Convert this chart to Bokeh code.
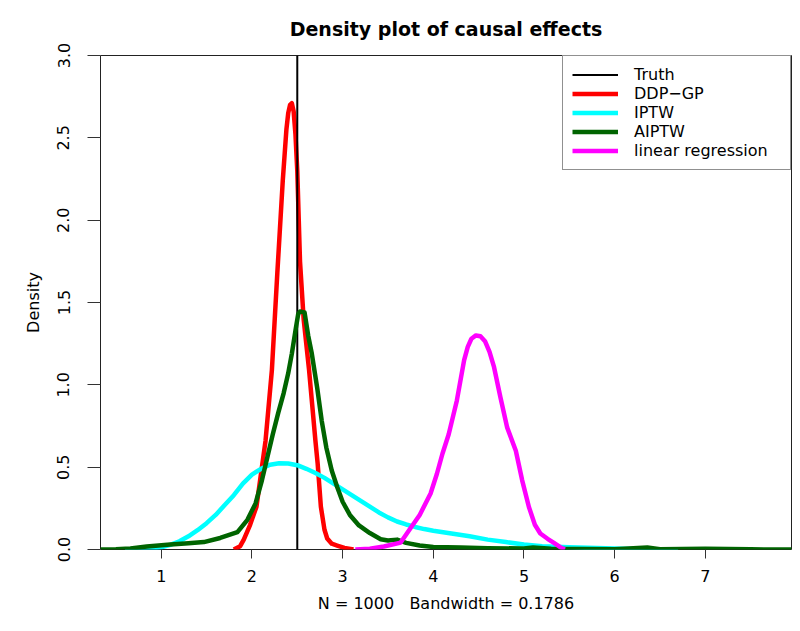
from bokeh.plotting import figure
from bokeh.models import Range1d, FixedTicker, Legend, LegendItem
from bokeh.embed import file_html
from bokeh.resources import INLINE

# ---- data ----
TITLE = "Density plot of causal effects"
TRUTH = 2.5
X_MIN, X_MAX = 0.33, 7.95
Y_MIN, Y_MAX = 0.0, 3.0
x_ticks = [1, 2, 3, 4, 5, 6, 7]
y_ticks = [0.0, 0.5, 1.0, 1.5, 2.0, 2.5, 3.0]
y_tick_labels = ["0.0", "0.5", "1.0", "1.5", "2.0", "2.5", "3.0"]

ddp_x = [1.80, 1.87, 1.91, 1.98, 2.05, 2.11, 2.15, 2.22, 2.28, 2.34, 2.38, 2.40, 2.42, 2.44,
         2.46, 2.48, 2.50, 2.53, 2.57, 2.63, 2.70, 2.725, 2.76, 2.80, 2.83, 2.88, 2.94,
         3.02, 3.12]
ddp_y = [0.0, 0.02, 0.06, 0.15, 0.26, 0.50, 0.66, 1.09, 1.68, 2.24, 2.55, 2.65, 2.70, 2.71,
         2.66, 2.52, 2.30, 1.75, 1.40, 1.09, 0.66, 0.52, 0.26, 0.12, 0.067, 0.035, 0.024,
         0.01, 0.0]

iptw_x = [0.60, 0.80, 1.00, 1.10, 1.20, 1.30, 1.40, 1.50, 1.60, 1.70, 1.80, 1.90, 2.00,
          2.10, 2.20, 2.30, 2.40, 2.50, 2.60, 2.70, 2.80, 2.90, 3.00, 3.10, 3.20, 3.30,
          3.40, 3.50, 3.60, 3.70, 3.80, 3.90, 4.00, 4.20, 4.40, 4.60, 4.80, 5.00, 5.20,
          5.50, 5.80, 6.10, 6.40, 6.70]
iptw_y = [0.0, 0.003, 0.013, 0.028, 0.05, 0.08, 0.117, 0.16, 0.21, 0.27, 0.33, 0.40, 0.455,
          0.49, 0.515, 0.524, 0.522, 0.512, 0.49, 0.465, 0.435, 0.40, 0.365, 0.33, 0.295,
          0.26, 0.225, 0.195, 0.17, 0.152, 0.137, 0.124, 0.114, 0.097, 0.08, 0.06, 0.045,
          0.03, 0.02, 0.013, 0.009, 0.004, 0.001, 0.0]

aiptw_x = [0.33, 0.50, 0.66, 0.84, 1.10, 1.30, 1.47, 1.65, 1.84, 1.95, 2.04, 2.11, 2.17,
           2.23, 2.29, 2.35, 2.40, 2.44, 2.48, 2.51, 2.53, 2.58, 2.62, 2.66, 2.72, 2.77,
           2.82, 2.88, 2.94, 3.00, 3.08, 3.18, 3.30, 3.42, 3.50, 3.60, 3.70, 3.85, 4.0,
           4.3, 4.6, 5.0, 5.1, 5.3, 5.6, 6.0, 6.36, 6.5, 7.0, 7.5, 7.95]
aiptw_y = [0.0, 0.002, 0.006, 0.018, 0.03, 0.038, 0.045, 0.07, 0.105, 0.18, 0.28, 0.42,
           0.56, 0.70, 0.83, 0.95, 1.07, 1.19, 1.33, 1.43, 1.445, 1.44, 1.30, 1.19, 0.98,
           0.78, 0.62, 0.48, 0.38, 0.29, 0.21, 0.146, 0.10, 0.062, 0.055, 0.06, 0.04, 0.024,
           0.015, 0.012, 0.008, 0.006, 0.012, 0.004, 0.003, 0.002, 0.012, 0.002, 0.004,
           0.001, 0.0]

lm_x = [3.14, 3.30, 3.455, 3.64, 3.75, 3.85, 3.97, 4.04, 4.10, 4.17, 4.26, 4.34, 4.38,
        4.42, 4.47, 4.52, 4.57, 4.62, 4.67, 4.74, 4.815, 4.91, 4.98, 5.055, 5.12, 5.18,
        5.26, 5.33, 5.40, 5.45]
lm_y = [0.0, 0.005, 0.018, 0.042, 0.13, 0.21, 0.34, 0.46, 0.58, 0.70, 0.905, 1.15, 1.23,
        1.28, 1.30, 1.295, 1.265, 1.20, 1.107, 0.925, 0.74, 0.60, 0.42, 0.257, 0.15, 0.097,
        0.065, 0.04, 0.014, 0.0]

FONT = "DejaVu Sans"

p = figure(width=800, height=631, output_backend="svg", toolbar_location=None,
           x_range=Range1d(X_MIN, X_MAX), y_range=Range1d(Y_MIN, Y_MAX),
           min_border_left=100, min_border_right=9, min_border_top=55, min_border_bottom=82,
           title=TITLE)
p.background_fill_color = "white"
p.border_fill_color = "white"
p.outline_line_color = "#222222"
p.outline_line_width = 1
p.grid.visible = False

p.title.align = "center"
p.title.vertical_align = "top"
p.title.text_font = FONT
p.title.text_font_size = "19px"
p.title.text_font_style = "bold"
p.title.text_color = "black"
p.title.standoff = 28

xax = p.below[0]
yax = p.left[0]
xax.ticker = FixedTicker(ticks=x_ticks)
yax.ticker = FixedTicker(ticks=y_ticks)
yax.major_label_overrides = {t: l for t, l in zip(y_ticks, y_tick_labels)}
yax.major_label_orientation = "vertical"
for ax in (xax, yax):
    ax.axis_line_color = None
    ax.major_tick_in = 0
    ax.minor_tick_line_color = None
    ax.major_tick_line_color = "#333333"
    ax.major_label_text_font = FONT
    ax.major_label_text_font_size = "16px"
    ax.major_label_text_color = "black"
    ax.axis_label_text_font = FONT
    ax.axis_label_text_font_size = "16px"
    ax.axis_label_text_font_style = "normal"
    ax.axis_label_text_color = "black"
xax.major_tick_out = 9
yax.major_tick_out = 13
xax.major_label_standoff = 11
yax.major_label_standoff = 18
xax.axis_label = "N = 1000 \u00a0 Bandwidth = 0.1786"
yax.axis_label = "Density"
xax.axis_label_standoff = 9
yax.axis_label_standoff = 12

LW = 4.5
r_ddp = p.line(ddp_x, ddp_y, line_color="#FF0000", line_width=LW, line_join="round")
r_truth = p.line([TRUTH, TRUTH], [Y_MIN, Y_MAX], line_color="black", line_width=2)
r_iptw = p.line(iptw_x, iptw_y, line_color="#00FFFF", line_width=LW, line_join="round")
r_aiptw = p.line(aiptw_x, aiptw_y, line_color="#006400", line_width=LW, line_join="round")
r_lm = p.line(lm_x, lm_y, line_color="#FF00FF", line_width=LW, line_join="round")

legend = Legend(items=[
    LegendItem(label="Truth", renderers=[r_truth]),
    LegendItem(label="DDP\u2212GP", renderers=[r_ddp]),
    LegendItem(label="IPTW", renderers=[r_iptw]),
    LegendItem(label="AIPTW", renderers=[r_aiptw]),
    LegendItem(label="linear regression", renderers=[r_lm]),
], location="top_right")
legend.margin = 0
legend.padding = 9
legend.spacing = 0
legend.glyph_width = 46
legend.glyph_height = 19
legend.label_height = 19
legend.label_width = 147
legend.label_standoff = 16
legend.label_text_font = FONT
legend.label_text_font_size = "16px"
legend.label_text_color = "black"
legend.border_line_color = "#222222"
legend.border_line_width = 1
legend.background_fill_alpha = 1.0
p.add_layout(legend)

open("out.html", "w").write(file_html(p, INLINE))
